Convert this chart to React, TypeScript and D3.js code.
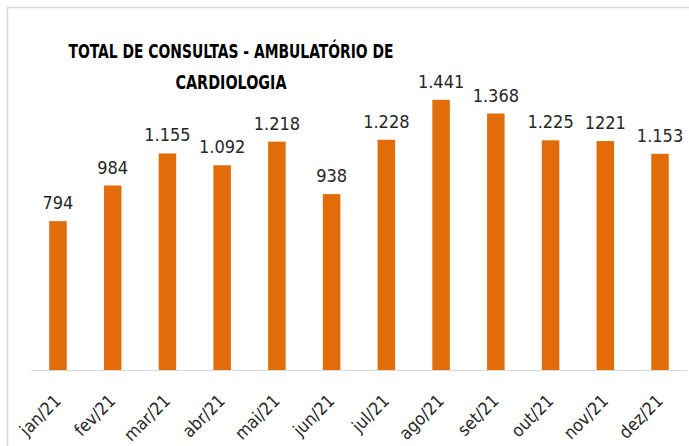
import React from "react";
import * as d3 from "d3";

const months = ["jan/21","fev/21","mar/21","abr/21","mai/21","jun/21","jul/21","ago/21","set/21","out/21","nov/21","dez/21"];
const values = [794, 984, 1155, 1092, 1218, 938, 1228, 1441, 1368, 1225, 1221, 1153];
const valueLabels = ["794","984","1.155","1.092","1.218","938","1.228","1.441","1.368","1.225","1221","1.153"];
const titleLines = ["TOTAL DE CONSULTAS - AMBULATÓRIO DE", "CARDIOLOGIA"];

const W = 689, H = 446;
const FONT = "'DejaVu Sans Condensed', 'Open Sans', sans-serif";

export default function App() {
  const x = d3.scaleBand<string>().domain(months).range([30.6, 687.4]).paddingInner(0.68).paddingOuter(0.34);
  const y = d3.scaleLinear().domain([0, 1600]).range([370, 70]);
  return (
    <svg width={W} height={H} style={{ position: "absolute", left: 0, top: 0, background: "#fff" }}>
      <rect x={7.5} y={7.5} width={W + 10} height={H + 10} fill="#fff" stroke="#d9d9d9" strokeWidth={1.5} />
      <line x1={31} x2={687} y1={370.5} y2={370.5} stroke="#d9d9d9" strokeWidth={1} />
      {months.map((m, i) => {
        const bx = x(m)!;
        const bw = x.bandwidth();
        const top = y(values[i]);
        const cx = bx + bw / 2;
        return (
          <g key={m}>
            <rect x={bx} y={top} width={bw} height={370 - top} fill="#e36c0a" />
            <text x={cx} y={top - 12} textAnchor="middle" fontFamily={FONT} fontSize={18} fill="#262626">{valueLabels[i]}</text>
            <text transform={`translate(${cx + 4},${402}) rotate(-45)`} textAnchor="end" fontFamily={FONT} fontSize={17.5} fill="#262626">{m}</text>
          </g>
        );
      })}
      <text x={231} y={58} textAnchor="middle" fontFamily={FONT} fontWeight="bold" fontSize={19.5} fill="#000" textLength={325} lengthAdjust="spacingAndGlyphs">{titleLines[0]}</text>
      <text x={231} y={89} textAnchor="middle" fontFamily={FONT} fontWeight="bold" fontSize={19.5} fill="#000" textLength={111} lengthAdjust="spacingAndGlyphs">{titleLines[1]}</text>
    </svg>
  );
}
